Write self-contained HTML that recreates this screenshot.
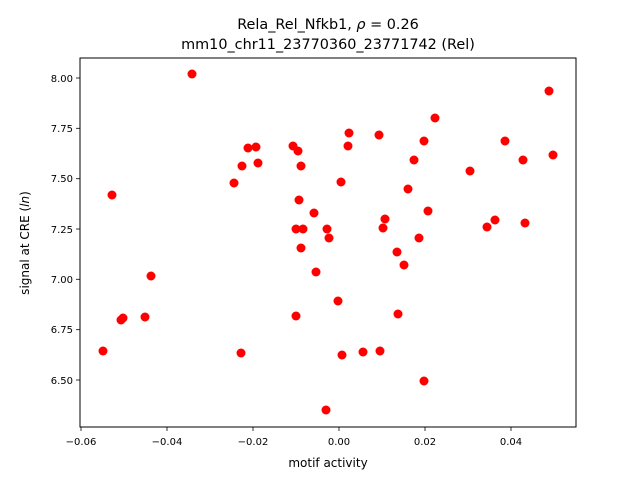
<!DOCTYPE html>
<html><head><meta charset="utf-8"><style>
body{margin:0;background:#fff;}
text{font-family:"DejaVu Sans","Liberation Sans",sans-serif;fill:#000;}
</style></head><body>
<svg width="640" height="480" viewBox="0 0 640 480" xmlns="http://www.w3.org/2000/svg">
<rect width="640" height="480" fill="#fff"/>
<text x="328" y="29" font-size="14.4" text-anchor="middle">Rela_Rel_Nfkb1, <tspan font-style="italic">ρ</tspan> = 0.26</text>
<text x="328" y="49" font-size="14.4" text-anchor="middle">mm10_chr11_23770360_23771742 (Rel)</text>
<g fill="#ff0000">
<circle cx="192" cy="74" r="4.5"/><circle cx="549" cy="91" r="4.5"/><circle cx="435" cy="118" r="4.5"/>
<circle cx="349" cy="133" r="4.5"/><circle cx="505" cy="141" r="4.5"/><circle cx="379" cy="135" r="4.5"/>
<circle cx="256" cy="147" r="4.5"/><circle cx="248" cy="148" r="4.5"/><circle cx="293" cy="146" r="4.5"/>
<circle cx="298" cy="151" r="4.5"/><circle cx="348" cy="146" r="4.5"/><circle cx="424" cy="141" r="4.5"/>
<circle cx="301" cy="166" r="4.5"/><circle cx="242" cy="166" r="4.5"/><circle cx="258" cy="163" r="4.5"/>
<circle cx="414" cy="160" r="4.5"/><circle cx="553" cy="155" r="4.5"/><circle cx="523" cy="160" r="4.5"/>
<circle cx="408" cy="189" r="4.5"/><circle cx="470" cy="171" r="4.5"/><circle cx="234" cy="183" r="4.5"/>
<circle cx="341" cy="182" r="4.5"/><circle cx="299" cy="200" r="4.5"/><circle cx="428" cy="211" r="4.5"/>
<circle cx="314" cy="213" r="4.5"/><circle cx="385" cy="219" r="4.5"/><circle cx="296" cy="229" r="4.5"/>
<circle cx="303" cy="229" r="4.5"/><circle cx="327" cy="229" r="4.5"/><circle cx="329" cy="238" r="4.5"/>
<circle cx="383" cy="228" r="4.5"/><circle cx="495" cy="220" r="4.5"/>
<circle cx="487" cy="227" r="4.5"/><circle cx="525" cy="223" r="4.5"/><circle cx="419" cy="238" r="4.5"/>
<circle cx="397" cy="252" r="4.5"/><circle cx="404" cy="265" r="4.5"/><circle cx="301" cy="248" r="4.5"/>
<circle cx="112" cy="195" r="4.5"/><circle cx="151" cy="276" r="4.5"/><circle cx="316" cy="272" r="4.5"/>
<circle cx="121" cy="320" r="4.5"/><circle cx="123" cy="318" r="4.5"/><circle cx="145" cy="317" r="4.5"/>
<circle cx="296" cy="316" r="4.5"/><circle cx="338" cy="301" r="4.5"/><circle cx="398" cy="314" r="4.5"/>
<circle cx="103" cy="351" r="4.5"/><circle cx="241" cy="353" r="4.5"/><circle cx="342" cy="355" r="4.5"/>
<circle cx="363" cy="352" r="4.5"/><circle cx="380" cy="351" r="4.5"/><circle cx="424" cy="381" r="4.5"/>
<circle cx="326" cy="410" r="4.5"/>
</g>
<rect x="80" y="58" width="496" height="369" fill="none" stroke="#000" stroke-width="1"/>
<g stroke="#000" stroke-width="0.8">
<line x1="81" y1="427" x2="81" y2="431"/><line x1="167" y1="427" x2="167" y2="431"/>
<line x1="253" y1="427" x2="253" y2="431"/><line x1="339" y1="427" x2="339" y2="431"/>
<line x1="425" y1="427" x2="425" y2="431"/><line x1="511" y1="427" x2="511" y2="431"/>
<line x1="76" y1="78" x2="80" y2="78"/><line x1="76" y1="128.3" x2="80" y2="128.3"/>
<line x1="76" y1="178.7" x2="80" y2="178.7"/><line x1="76" y1="229" x2="80" y2="229"/>
<line x1="76" y1="279.3" x2="80" y2="279.3"/><line x1="76" y1="329.7" x2="80" y2="329.7"/>
<line x1="76" y1="380" x2="80" y2="380"/>
</g>
<g font-size="10" text-anchor="middle">
<text x="81" y="445">−0.06</text><text x="167" y="445">−0.04</text><text x="253" y="445">−0.02</text>
<text x="339" y="445">0.00</text><text x="425" y="445">0.02</text><text x="511" y="445">0.04</text>
</g>
<g font-size="10" text-anchor="end">
<text x="73" y="82">8.00</text><text x="73" y="132">7.75</text><text x="73" y="182">7.50</text>
<text x="73" y="233">7.25</text><text x="73" y="283">7.00</text><text x="73" y="333">6.75</text>
<text x="73" y="384">6.50</text>
</g>
<text x="328" y="467" font-size="12" text-anchor="middle">motif activity</text>
<text transform="translate(29,243) rotate(-90)" font-size="12" text-anchor="middle">signal at CRE (<tspan font-style="italic">ln</tspan>)</text>
</svg>
</body></html>
